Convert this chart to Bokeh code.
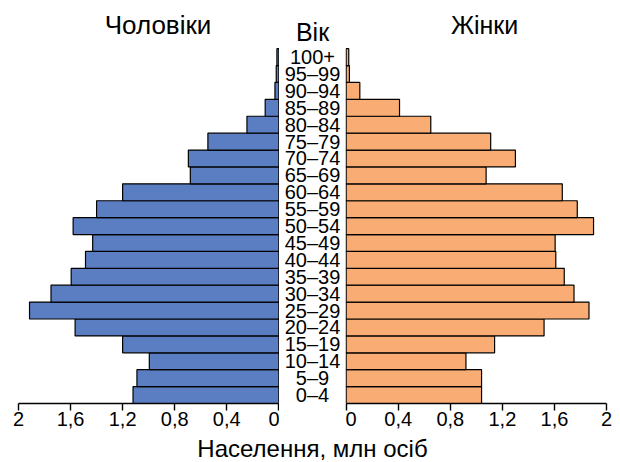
from bokeh.plotting import figure
from bokeh.layouts import row, column
from bokeh.models import Range1d, FixedTicker, Label, ColumnDataSource
from bokeh.core.properties import value
from bokeh.embed import file_html
from bokeh.resources import INLINE

# ---- data (bottom to top) ----
ages = ["0–4", "5–9", "10–14", "15–19", "20–24", "25–29", "30–34", "35–39",
        "40–44", "45–49", "50–54", "55–59", "60–64", "65–69", "70–74", "75–79",
        "80–84", "85–89", "90–94", "95–99", "100+"]
men = [1.12, 1.09, 0.995, 1.2, 1.565, 1.915, 1.75, 1.595, 1.485, 1.43, 1.58,
       1.4, 1.2, 0.68, 0.695, 0.545, 0.245, 0.105, 0.03, 0.02, 0.015]
women = [1.04, 1.04, 0.92, 1.14, 1.52, 1.865, 1.75, 1.675, 1.61, 1.605, 1.9,
         1.775, 1.66, 1.075, 1.3, 1.11, 0.65, 0.41, 0.105, 0.025, 0.02]
tick_values = [0, 0.4, 0.8, 1.2, 1.6, 2]
tick_labels = ["0", "0,4", "0,8", "1,2", "1,6", "2"]
title_men = "Чоловіки"
title_women = "Жінки"
title_age = "Вік"
x_title = "Населення, млн осіб"

FONT = "Liberation Sans"
BLUE = "#5b7ec3"
ORANGE = "#f9ac73"

idx = list(range(len(ages)))
src = ColumnDataSource(dict(y=idx, age=ages, men=men, women=women))

Y_RANGE = (-0.5, 23.35)
BORDER_B = 31
ROW_H = 403 + BORDER_B


def base_fig(width, xr):
    p = figure(width=width, height=ROW_H, x_range=xr,
               y_range=Range1d(*Y_RANGE), output_backend="svg",
               toolbar_location=None, min_border_left=0, min_border_right=0,
               min_border_top=0, min_border_bottom=BORDER_B,
               outline_line_color=None, background_fill_color="white",
               border_fill_color="white")
    p.xgrid.visible = False
    p.ygrid.visible = False
    p.yaxis.visible = False
    return p


def style_xaxis(p):
    ax = p.xaxis[0]
    ax.ticker = FixedTicker(ticks=tick_values)
    ax.major_label_overrides = {v: l for v, l in zip(tick_values, tick_labels)}
    ax.bounds = (0, 2)
    ax.axis_line_color = "black"
    ax.axis_line_width = 1.6
    ax.major_tick_line_color = "black"
    ax.major_tick_line_width = 1.4
    ax.major_tick_out = 7
    ax.major_tick_in = 0
    ax.minor_tick_line_color = None
    ax.major_label_standoff = 1
    ax.major_label_text_font = FONT
    ax.major_label_text_font_size = "20px"
    ax.major_label_text_color = "black"


def title_label(x, y, text, size="25px"):
    return Label(x=x, y=y, text=text, text_align="center",
                 text_baseline="middle", text_font=FONT,
                 text_font_size=size, text_color="black")


# left: men
left = base_fig(279, Range1d(2.1379, -0.005))
left.hbar(y="y", left=0, right="men", height=1, source=src,
          fill_color=BLUE, line_color="black", line_width=1.2)
style_xaxis(left)
left.add_layout(title_label(0.928, 21.9, title_men, "26px"))

# middle: age labels
mid = base_fig(66, Range1d(-1, 1))
mid.xaxis.visible = False
mid.text(x=0, y="y", text="age", source=src, text_align="center",
         text_baseline="middle", text_font=value(FONT),
         text_font_size="20px", text_color="black")
mid.add_layout(title_label(0, 21.49, title_age))

# right: women
right = base_fig(275, Range1d(-0.005, 2.107))
right.hbar(y="y", left=0, right="women", height=1, source=src,
           fill_color=ORANGE, line_color="black", line_width=1.2)
style_xaxis(right)
right.add_layout(title_label(1.063, 21.9, title_women))

# bottom: axis title
BOTTOM_H = 462 - ROW_H
bottom = figure(width=620, height=BOTTOM_H, x_range=Range1d(0, 620),
                y_range=Range1d(0, BOTTOM_H), output_backend="svg",
                toolbar_location=None, min_border=0, outline_line_color=None,
                background_fill_color="white", border_fill_color="white")
bottom.axis.visible = False
bottom.grid.visible = False
bottom.add_layout(title_label(312, 14, x_title, "24px"))

layout = column(row(left, mid, right, spacing=0), bottom, spacing=0)

open("out.html", "w").write(file_html(layout, INLINE))
